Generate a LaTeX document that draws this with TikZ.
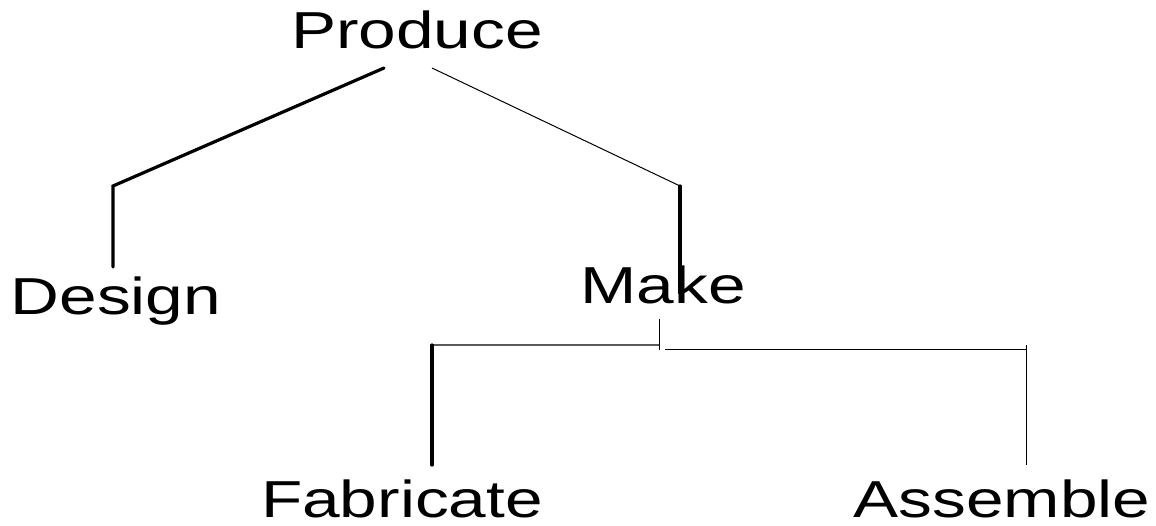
\documentclass[tikz,border=0pt]{standalone}
\usepackage{fontspec}
\setmainfont{Liberation Sans}[FakeStretch=1.3]
\begin{document}
\begin{tikzpicture}[x=1pt,y=-1pt,
  label/.style={inner sep=0pt,anchor=base,font=\fontsize{52}{60}\selectfont},
  heavy/.style={line width=3.2pt,line cap=round},
  light/.style={line width=1pt},
  faint/.style={line width=1.2pt,black!65}]
  \useasboundingbox (0,0) rectangle (1156,525);
  % labels of the tree
  \node[label] (produce)   at (417,48)   {Produce};
  \node[label] (design)    at (116,314)  {Design};
  \node[label] (make)      at (663,303)  {Make};
  \node[label] (fabricate) at (402,517)  {Fabricate};
  \node[label] (assemble)  at (1002,517) {Assemble};
  % branch points
  \coordinate (pl)  at (384,68);
  \coordinate (pr)  at (432,68);
  \coordinate (dc)  at (113,186);
  \coordinate (de)  at (113,267);
  \coordinate (mc)  at (680,186);
  \coordinate (me)  at (680,293);
  \coordinate (mt)  at (659,319);
  \coordinate (mb)  at (659,350);
  \coordinate (fl)  at (432,345);
  \coordinate (fe)  at (432,465);
  \coordinate (ar)  at (665,349);
  \coordinate (at2) at (1026,349);
  \coordinate (ae)  at (1026,465);
  % Produce -> Design
  \draw[heavy] (pl) -- (dc) -- (de);
  % Produce -> Make
  \draw[light] (pr) -- (mc);
  \draw[heavy] (mc) -- (me);
  % Make -> Fabricate / Assemble
  \draw[light] (mt) -- (mb);
  \draw[faint] (fl) -- (mt |- fl);
  \draw[light] (ar) -- (at2);
  \draw[heavy] (fl) -- (fe);
  \draw[light] (1026,345) -- (ae);
\end{tikzpicture}
\end{document}
